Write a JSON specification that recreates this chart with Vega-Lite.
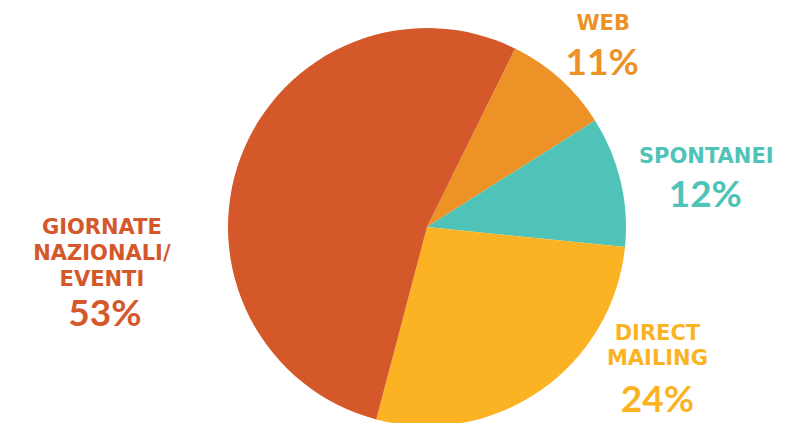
{
  "$schema": "https://vega.github.io/schema/vega-lite/v6.json",
  "width": 724,
  "height": 398,
  "padding": {"left": 65, "top": 28, "right": 0, "bottom": 0},
  "autosize": {"type": "none"},
  "background": "white",
  "config": {"view": {"stroke": null}},
  "data": {
    "values": [
      {"cat": "WEB", "name": "WEB", "pct": "11%", "share": 8.7, "ord": 1},
      {"cat": "SPONTANEI", "name": "SPONTANEI", "pct": "12%", "share": 10.6, "ord": 2},
      {"cat": "DIRECT MAILING", "name": "DIRECT\nMAILING", "pct": "24%", "share": 27.5, "ord": 3},
      {"cat": "GIORNATE NAZIONALI/EVENTI", "name": "GIORNATE\nNAZIONALI/\nEVENTI", "pct": "53%", "share": 53.2, "ord": 4}
    ]
  },
  "encoding": {
    "theta": {"field": "share", "type": "quantitative", "stack": true, "scale": {"range": [0.459, 6.742]}},
    "order": {"field": "ord", "type": "quantitative"},
    "color": {
      "field": "cat", "type": "nominal", "legend": null,
      "scale": {
        "domain": ["WEB", "SPONTANEI", "DIRECT MAILING", "GIORNATE NAZIONALI/EVENTI"],
        "range": ["#EC9226", "#50C3B8", "#FBB323", "#D4582A"]
      }
    }
  },
  "layer": [
    {"mark": {"type": "arc"}},
    {
      "mark": {"type": "text", "radius": 250, "dx": 9, "dy": -17, "font": "DejaVu Sans", "fontWeight": "bold", "fontSize": 21, "lineBreak": "\n", "lineHeight": 26, "align": "center", "baseline": "middle"},
      "encoding": {"text": {"condition": {"test": "datum.cat === 'WEB'", "field": "name"}, "value": ""}}
    },
    {
      "mark": {"type": "text", "radius": 250, "dx": 8, "dy": 23, "font": "Lato", "fontWeight": "bold", "fontSize": 37, "align": "center", "baseline": "middle"},
      "encoding": {"text": {"condition": {"test": "datum.cat === 'WEB'", "field": "pct"}, "value": ""}}
    },
    {
      "mark": {"type": "text", "radius": 250, "dx": 36, "dy": -12, "font": "DejaVu Sans", "fontWeight": "bold", "fontSize": 21, "lineBreak": "\n", "lineHeight": 26, "align": "center", "baseline": "middle"},
      "encoding": {"text": {"condition": {"test": "datum.cat === 'SPONTANEI'", "field": "name"}, "value": ""}}
    },
    {
      "mark": {"type": "text", "radius": 250, "dx": 35, "dy": 27, "font": "Lato", "fontWeight": "bold", "fontSize": 37, "align": "center", "baseline": "middle"},
      "encoding": {"text": {"condition": {"test": "datum.cat === 'SPONTANEI'", "field": "pct"}, "value": ""}}
    },
    {
      "mark": {"type": "text", "radius": 250, "dx": 88, "dy": -98, "font": "DejaVu Sans", "fontWeight": "bold", "fontSize": 21, "lineBreak": "\n", "lineHeight": 25, "align": "center", "baseline": "middle"},
      "encoding": {"text": {"condition": {"test": "datum.cat === 'DIRECT MAILING'", "field": "name"}, "value": ""}}
    },
    {
      "mark": {"type": "text", "radius": 250, "dx": 88, "dy": -31, "font": "Lato", "fontWeight": "bold", "fontSize": 37, "align": "center", "baseline": "middle"},
      "encoding": {"text": {"condition": {"test": "datum.cat === 'DIRECT MAILING'", "field": "pct"}, "value": ""}}
    },
    {
      "mark": {"type": "text", "radius": 250, "dx": -91, "dy": 89, "font": "DejaVu Sans", "fontWeight": "bold", "fontSize": 21, "lineBreak": "\n", "lineHeight": 26, "align": "center", "baseline": "middle"},
      "encoding": {"text": {"condition": {"test": "datum.cat === 'GIORNATE NAZIONALI/EVENTI'", "field": "name"}, "value": ""}}
    },
    {
      "mark": {"type": "text", "radius": 250, "dx": -88, "dy": 176, "font": "Lato", "fontWeight": "bold", "fontSize": 37, "align": "center", "baseline": "middle"},
      "encoding": {"text": {"condition": {"test": "datum.cat === 'GIORNATE NAZIONALI/EVENTI'", "field": "pct"}, "value": ""}}
    }
  ]
}
